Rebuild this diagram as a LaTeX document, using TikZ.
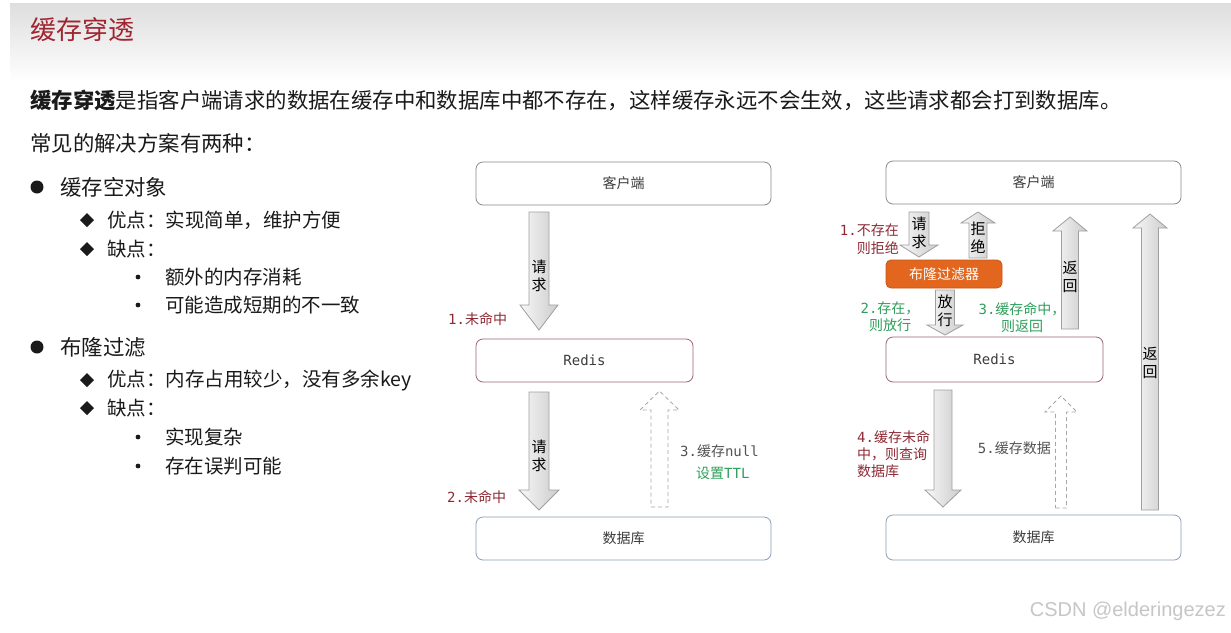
\documentclass[tikz,border=0pt]{standalone}
\usepackage{fontspec}
\setmainfont{Noto Sans CJK SC}
\newfontfamily\mono{DejaVu Sans Mono}
\newfontfamily\wm{Liberation Sans}
\definecolor{titlered}{HTML}{A02530}
\definecolor{labred}{HTML}{8E2A35}
\definecolor{labgreen}{HTML}{2E9F5A}
\definecolor{txt}{HTML}{1A1A1A}
\definecolor{boxgray}{HTML}{8A8A8A}
\definecolor{redisbd}{HTML}{9A6470}
\definecolor{dbbd}{HTML}{8C9DBA}
\definecolor{bloom}{HTML}{E2661E}
\newcommand\BlkDown[7][blkarrow]{%
 \path[#1] ({#2-#5},{#3}) -- ({#2+#5},{#3}) -- ({#2+#5},{#4-#7}) -- ({#2+#6},{#4-#7}) -- ({#2},{#4}) -- ({#2-#6},{#4-#7}) -- ({#2-#5},{#4-#7}) -- cycle;}
\newcommand\BlkUp[7][blkarrow]{%
 \path[#1] ({#2-#5},{#3}) -- ({#2+#5},{#3}) -- ({#2+#5},{#4+#7}) -- ({#2+#6},{#4+#7}) -- ({#2},{#4}) -- ({#2-#6},{#4+#7}) -- ({#2-#5},{#4+#7}) -- cycle;}
\tikzset{
 blkarrow/.style={left color=gray!6, right color=gray!40, draw=gray!75, line width=0.8pt},
 dasharrow/.style={draw=gray!70, dash pattern=on 4pt off 3pt, line width=0.8pt},
 box/.style={rounded corners=7pt, draw=boxgray, line width=0.8pt, fill=white, inner sep=0pt,
   minimum width=295pt, minimum height=43pt, font=\fontsize{14}{16}\selectfont, text=txt!85},
 txtl/.style={anchor=west, inner sep=0pt, text=txt},
 big/.style={font=\fontsize{21.4}{26}\selectfont},
 mid/.style={font=\fontsize{19.5}{24}\selectfont},
 lab/.style={inner sep=0pt, font=\fontsize{14}{17}\selectfont},
 inarrow/.style={inner sep=0pt, align=center, text=black, font=\fontsize{15}{18}\selectfont},
}
\begin{document}
\begin{tikzpicture}[x=1pt,y=-1pt]
\useasboundingbox (0,0) rectangle (1231,632);
\fill[white] (0,0) rectangle (1231,632);
% header band
\shade[top color=gray!26, bottom color=white] (10,3) rectangle (1231,82);
\node[txtl, text=titlered, font=\fontsize{26}{30}\selectfont] (title) at (30,30) {缓存穿透};
\node[txtl, big] (intro) at (30,100) {{\bfseries 缓存穿透}是指客户端请求的数据在缓存中和数据库中都不存在，这样缓存永远不会生效，这些请求都会打到数据库。};
\node[txtl, big] (common) at (30,143) {常见的解决方案有两种：};
% list
\fill[txt] (37,187) circle (6.5);
\node[txtl, big] (s1) at (60,187) {缓存空对象};
\fill[txt] (80,220) -- (87,213) -- (94,220) -- (87,227) -- cycle;
\node[txtl, mid] (s1a) at (107,220) {优点：实现简单，维护方便};
\fill[txt] (80,249) -- (87,242) -- (94,249) -- (87,256) -- cycle;
\node[txtl, mid] (s1b) at (107,249) {缺点：};
\fill[txt] (138,277) circle (2.4);
\node[txtl, mid] (s1b1) at (165,277) {额外的内存消耗};
\fill[txt] (138,305) circle (2.4);
\node[txtl, mid] (s1b2) at (165,305) {可能造成短期的不一致};
\fill[txt] (37,347) circle (6.5);
\node[txtl, big] (s2) at (60,347) {布隆过滤};
\fill[txt] (80,380) -- (87,373) -- (94,380) -- (87,387) -- cycle;
\node[txtl, mid] (s2a) at (107,380) {优点：内存占用较少，没有多余key};
\fill[txt] (80,408) -- (87,401) -- (94,408) -- (87,415) -- cycle;
\node[txtl, mid] (s2b) at (107,408) {缺点：};
\fill[txt] (138,437) circle (2.4);
\node[txtl, mid] (s2b1) at (165,437) {实现复杂};
\fill[txt] (138,466) circle (2.4);
\node[txtl, mid] (s2b2) at (165,466) {存在误判可能};

% ---------- left diagram ----------
\node[box] (lc) at (623.5,183.5) {客户端};
\node[box, draw=redisbd, minimum width=217pt, font=\mono\fontsize{14}{16}\selectfont] (lr) at (584.5,360.5) {Redis};
\node[box, draw=dbbd] (ld) at (623.5,538.5) {数据库};
\BlkDown{539}{212}{330}{10}{19}{25}
\node[inarrow] (lq1) at (539,276) {请\\求};
\node[lab, anchor=west, text=labred] (l1) at (448,319) {{\mono 1.}未命中};
\BlkDown{539}{392}{510}{10}{20}{20}
\node[inarrow] (lq2) at (539,456) {请\\求};
\node[lab, anchor=west, text=labred] (l2) at (447,497) {{\mono 2.}未命中};
\BlkUp[dasharrow]{659.5}{507}{391}{8.5}{19.5}{19}
\node[lab, anchor=west, text=txt!75] (l3) at (680,451) {{\mono 3.}缓存{\mono null}};
\node[lab, anchor=west, text=labgreen] (l3b) at (696,473) {设置{\mono TTL}};

% ---------- right diagram ----------
\node[box] (rc) at (1033.5,182.5) {客户端};
\node[box, draw=bloom!85!black, fill=bloom, text=white, rounded corners=5pt, minimum width=116pt, minimum height=28pt] (bf) at (944,274) {布隆过滤器};
\node[box, draw=redisbd, minimum width=217pt, minimum height=45pt, font=\mono\fontsize{14}{16}\selectfont] (rr) at (994.5,359.5) {Redis};
\node[box, draw=dbbd, minimum height=45pt] (rd) at (1033.5,537.5) {数据库};
% request / reject
\BlkDown{919}{212}{257}{10}{19}{12}
\node[inarrow] (rq) at (919,233) {请\\求};
\node[lab, align=right, anchor=east, text=labred, font=\fontsize{14}{18}\selectfont] (r1) at (899,239) {{\mono 1.}不存在\\则拒绝};
\BlkUp{978}{258}{212}{9}{17}{11}
\node[inarrow] (rj) at (978,238) {拒\\绝};
% pass
\BlkDown{945}{290}{335}{9.5}{18}{10}
\node[inarrow] (rp) at (945,311) {放\\行};
\node[lab, align=center, text=labgreen, font=\fontsize{14}{17}\selectfont] (r2) at (890,317) {{\mono 2.}存在，\\则放行};
% hit return
\BlkUp{1070}{329}{217}{8.5}{17}{14}
\node[inarrow] (rb1) at (1070,277) {返\\回};
\node[lab, align=center, text=labgreen, font=\fontsize{14}{17}\selectfont] (r3) at (1022,318) {{\mono 3.}缓存命中，\\则返回};
% long return
\BlkUp{1150}{510}{214}{8.5}{17}{14}
\node[inarrow] (rb2) at (1150,363) {返\\回};
% miss
\BlkDown{943}{390}{507}{9}{18}{17}
\node[lab, align=left, anchor=west, text=labred, font=\fontsize{14}{17}\selectfont] (r4) at (857,454) {{\mono 4.}缓存未命\\中，则查询\\数据库};
\BlkUp[dasharrow]{1061}{508}{396}{5.5}{16}{16}
\node[lab, anchor=east, text=txt!75] (r5) at (1051,448) {{\mono 5.}缓存数据};

% watermark
\node[anchor=east, inner sep=0pt, text=gray!45, font=\wm\fontsize{20}{22}\selectfont] (wmk) at (1226,611) {CSDN @elderingezez};
\end{tikzpicture}
\end{document}
